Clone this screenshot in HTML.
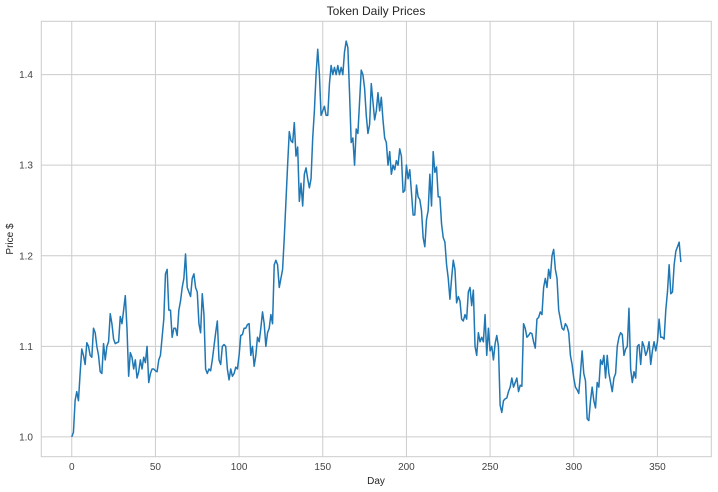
<!DOCTYPE html>
<html><head><meta charset="utf-8"><style>
html,body{margin:0;padding:0;background:#fff;}
svg{display:block;font-family:"Liberation Sans",sans-serif;}
</style></head><body>
<svg id="chart" width="718" height="492">
<rect x="0" y="0" width="718" height="492" fill="#fff"/>
<g id="grid"></g>
<rect x="41.3" y="21.3" width="670" height="435.4" fill="none" stroke="#cccccc" stroke-width="1"/>
<g id="ticks"></g>
<path id="line" fill="none" stroke="#1f77b4" stroke-width="1.5" stroke-linejoin="round"/>
<text x="376" y="15" text-anchor="middle" font-size="12" fill="#262626">Token Daily Prices</text>
<text x="376" y="484" text-anchor="middle" font-size="10" fill="#262626">Day</text>
<text transform="translate(13,239) rotate(-90)" text-anchor="middle" font-size="10" fill="#262626">Price $</text>
</svg>
<script>
const prices = [1.00,1.005,1.04,1.05,1.04,1.07,1.097,1.09,1.08,1.104,1.10,1.09,1.088,1.12,1.115,1.10,1.09,1.072,1.07,1.103,1.085,1.10,1.105,1.136,1.125,1.108,1.103,1.104,1.105,1.133,1.125,1.14,1.156,1.12,1.067,1.093,1.088,1.075,1.085,1.065,1.072,1.085,1.075,1.088,1.082,1.10,1.06,1.07,1.075,1.075,1.073,
1.072,1.085,1.09,1.11,1.13,1.18,1.185,1.14,1.14,1.11,1.12,1.12,1.112,1.14,1.15,1.165,1.175,1.202,1.165,1.16,1.155,1.175,1.18,1.165,1.16,1.125,1.115,1.158,1.135,1.075,1.07,1.075,1.073,1.085,1.10,1.115,1.128,1.085,1.08,1.10,1.102,1.10,1.075,1.063,1.075,1.067,1.07,1.077,1.075,1.09,1.112,
1.113,1.12,1.12,1.124,1.125,1.09,1.10,1.078,1.09,1.11,1.105,1.12,1.138,1.125,1.10,1.115,1.12,1.135,1.125,1.19,1.195,1.19,1.165,1.175,1.185,1.22,1.26,1.30,1.337,1.327,1.325,1.347,1.31,1.32,1.26,1.28,1.255,1.29,1.297,1.285,1.275,1.285,1.33,1.36,1.40,1.428,1.40,1.355,1.36,1.365,
1.355,1.355,1.39,1.41,1.40,1.408,1.40,1.41,1.40,1.408,1.40,1.425,1.437,1.43,1.38,1.325,1.33,1.30,1.34,1.335,1.37,1.405,1.40,1.385,1.355,1.335,1.345,1.39,1.37,1.35,1.36,1.38,1.36,1.375,1.35,1.33,1.325,1.30,1.315,1.29,1.30,1.295,1.305,1.30,1.318,1.31,1.27,1.272,1.30,1.285,1.295,
1.27,1.245,1.245,1.278,1.265,1.262,1.25,1.22,1.21,1.24,1.25,1.29,1.255,1.315,1.292,1.298,1.265,1.265,1.235,1.22,1.215,1.19,1.175,1.152,1.175,1.195,1.185,1.148,1.155,1.15,1.13,1.128,1.135,1.13,1.16,1.165,1.145,1.162,1.10,1.09,1.115,1.105,1.11,1.105,1.135,1.09,1.12,1.095,1.10,1.085,
1.103,1.112,1.10,1.035,1.027,1.04,1.042,1.043,1.05,1.055,1.065,1.055,1.06,1.065,1.05,1.057,1.056,1.125,1.12,1.11,1.112,1.115,1.114,1.105,1.098,1.13,1.132,1.138,1.135,1.165,1.175,1.165,1.185,1.175,1.20,1.207,1.185,1.175,1.14,1.13,1.12,1.118,1.125,1.122,1.115,1.09,1.08,1.065,1.055,1.052,1.048,
1.07,1.095,1.07,1.062,1.02,1.018,1.04,1.055,1.04,1.032,1.06,1.055,1.085,1.08,1.09,1.065,1.09,1.07,1.06,1.05,1.065,1.07,1.10,1.11,1.115,1.113,1.09,1.097,1.10,1.142,1.075,1.06,1.072,1.065,1.10,1.102,1.08,1.105,1.10,1.09,1.095,1.105,1.08,1.095,1.105,1.095,1.105,1.13,1.11,1.11,1.108,
1.14,1.16,1.19,1.158,1.16,1.19,1.205,1.21,1.215,1.193];
const xTicks = [0,50,100,150,200,250,300,350];
const yTicks = [1.0,1.1,1.2,1.3,1.4];
const yLabels = ["1.0","1.1","1.2","1.3","1.4"];

const X0=41.3,X1=711.3,Y0=456.7,Y1=21.3;
const n=prices.length-1;
const xmin=-0.05*n,xmax=n*1.05;
const pmin=Math.min(...prices),pmax=Math.max(...prices),pr=pmax-pmin;
const ymin=pmin-0.05*pr,ymax=pmax+0.05*pr;
const sx=v=>X0+(v-xmin)/(xmax-xmin)*(X1-X0);
const sy=v=>Y0-(v-ymin)/(ymax-ymin)*(Y0-Y1);
const NS="http://www.w3.org/2000/svg";
const grid=document.getElementById('grid'),ticks=document.getElementById('ticks');
xTicks.forEach(t=>{
  const l=document.createElementNS(NS,'line');
  l.setAttribute('x1',sx(t));l.setAttribute('x2',sx(t));l.setAttribute('y1',Y1);l.setAttribute('y2',Y0);
  l.setAttribute('stroke','#cccccc');l.setAttribute('stroke-width','1');
  
  
  grid.appendChild(l);
  const tx=document.createElementNS(NS,'text');
  tx.setAttribute('x',sx(t));tx.setAttribute('y',470);tx.setAttribute('text-anchor','middle');
  tx.setAttribute('font-size','10');tx.setAttribute('fill','#444');tx.textContent=t;
  
  
  ticks.appendChild(tx);
});
yTicks.forEach((t,i)=>{
  const l=document.createElementNS(NS,'line');
  l.setAttribute('x1',X0);l.setAttribute('x2',X1);l.setAttribute('y1',sy(t));l.setAttribute('y2',sy(t));
  l.setAttribute('stroke','#cccccc');l.setAttribute('stroke-width','1');
  
  
  grid.appendChild(l);
  const tx=document.createElementNS(NS,'text');
  tx.setAttribute('x',33);tx.setAttribute('y',sy(t)+3.5);tx.setAttribute('text-anchor','end');
  tx.setAttribute('font-size','10');tx.setAttribute('fill','#444');tx.textContent=yLabels[i];
  
  
  ticks.appendChild(tx);
});
document.getElementById('line').setAttribute('d',prices.map((p,i)=>(i?'L':'M')+sx(i).toFixed(2)+','+sy(p).toFixed(2)).join(''));
</script>
</body></html>
